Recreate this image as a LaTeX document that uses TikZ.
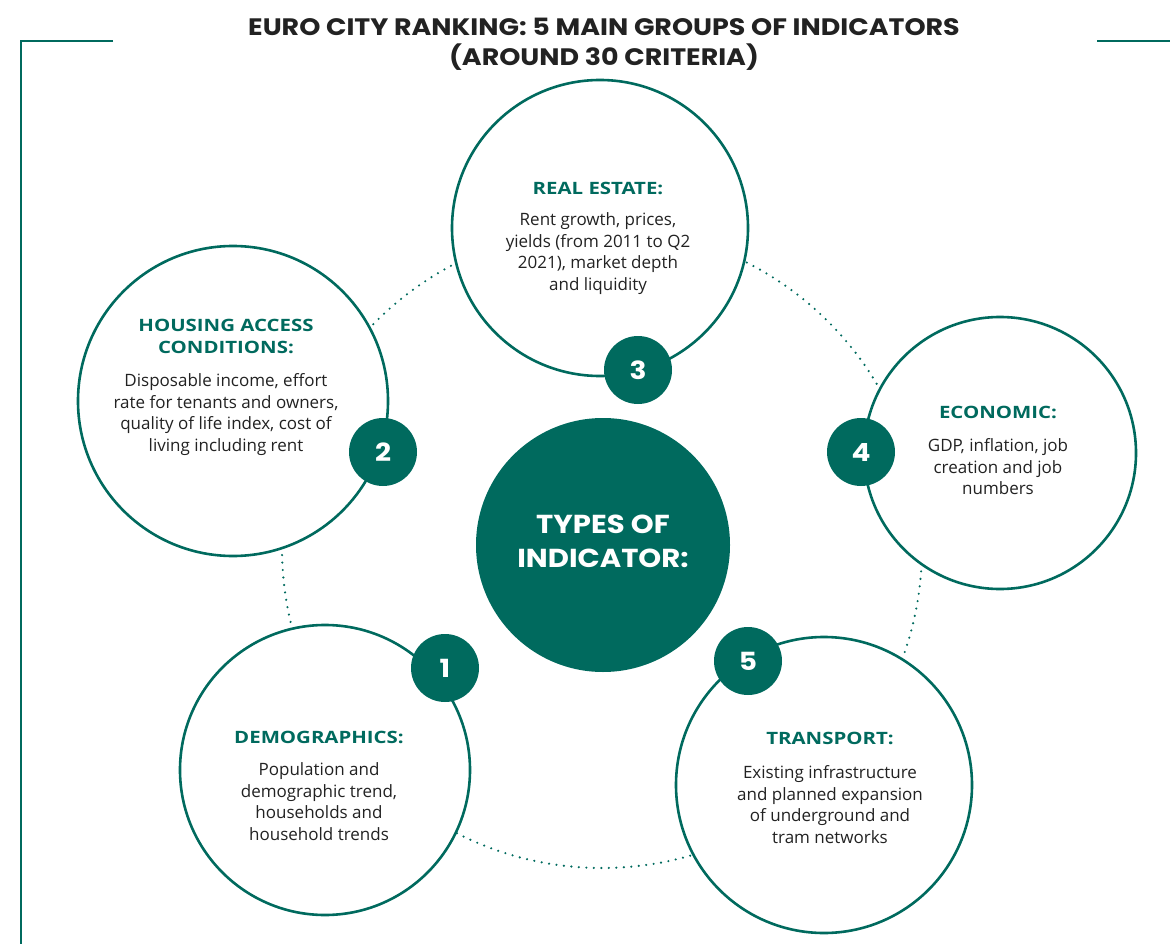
\documentclass[tikz,border=0pt]{standalone}
\usepackage{xcolor}
\usepackage{fontspec}
\usepackage{tikz}
\usetikzlibrary{positioning}
\setmainfont{Open Sans}
\newfontfamily\headfont{Open Sans}[FakeStretch=1.2]
\newfontfamily\titlefont{Poppins}[FakeStretch=1.13]
\newfontfamily\centrefont{Poppins}[FakeStretch=1.12]
\definecolor{ecteal}{RGB}{0,106,94}
\definecolor{ecdark}{RGB}{34,34,34}

\begin{document}
\begin{tikzpicture}[x=1pt, y=-1pt,
    ring/.style={draw=ecteal, line width=2.6pt, fill=white, circle, minimum size=#1},
    badge/.style={circle, fill=ecteal, text=white, minimum size=68pt, inner sep=0pt, font=\centrefont\fontsize{25}{30}\selectfont\bfseries},
    head/.style={text=ecteal, inner sep=0pt, align=center, font=\headfont\fontsize{17}{22}\selectfont\bfseries},
    body/.style={text=ecdark, inner sep=0pt, align=center, font=\fontsize{17}{21.6}\selectfont}]
    \useasboundingbox (0,0) rectangle (1170,944);

    % frame and title
    \draw[ecteal, line width=2pt] (113,41) -- (21,41) -- (21,944);
    \draw[ecteal, line width=2pt] (1097,41) -- (1170,41);
    \node[text=ecdark, align=center, font=\titlefont\fontsize{23.8}{30}\selectfont\bfseries] (title) at (604,44.5) {EURO CITY RANKING: 5 MAIN GROUPS OF INDICATORS\\(AROUND 30 CRITERIA)};

    % dotted ring behind the circles
    \draw[ecteal, line width=2.4pt, line cap=round, dash pattern=on 0pt off 7.5pt] (602,548) circle (320pt);

    % the five groups
    \node[ring=296pt] (realestate) at (600,228) {};
    \node[ring=310pt] (housing) at (233,401) {};
    \node[ring=272pt] (economic) at (1000,453) {};
    \node[ring=290pt] (demo) at (325,770) {};
    \node[ring=296pt] (transport) at (824,785) {};

    \node[head] (head3) at (598,188) {REAL ESTATE:};
    \node[body, below=18pt of head3] (body3) {Rent growth, prices,\\yields (from 2011 to Q2\\2021), market depth\\and liquidity};

    \node[head] (head2) at (226,336) {HOUSING ACCESS\\CONDITIONS:};
    \node[body, below=20pt of head2] (body2) {Disposable income, effort\\rate for tenants and owners,\\quality of life index, cost of\\living including rent};

    \node[head] (head4) at (998,412) {ECONOMIC:};
    \node[body, below=20pt of head4] (body4) {GDP, inflation, job\\creation and job\\numbers};

    \node[head] (head1) at (319,737) {DEMOGRAPHICS:};
    \node[body, below=19pt of head1] (body1) {Population and\\demographic trend,\\households and\\household trends};

    \node[head] (head5) at (830,738) {TRANSPORT:};
    \node[body, below=21pt of head5] (body5) {Existing infrastructure\\and planned expansion\\of underground and\\tram networks};

    % number badges
    \node[badge] (n1) at (445,668) {1};
    \node[badge] (n2) at (383,452) {2};
    \node[badge] (n3) at (638,370) {3};
    \node[badge] (n4) at (861,452) {4};
    \node[badge] (n5) at (748,661) {5};

    % centre
    \node[circle, fill=ecteal, minimum size=254pt, text=white, align=center, font=\centrefont\fontsize{26}{34}\selectfont\bfseries] (types) at (603,545) {};
    \node[text=white, align=center, inner sep=0pt, font=\centrefont\fontsize{26}{34}\selectfont\bfseries] (typeslabel) at (603,541) {TYPES OF\\INDICATOR:};
\end{tikzpicture}
\end{document}
